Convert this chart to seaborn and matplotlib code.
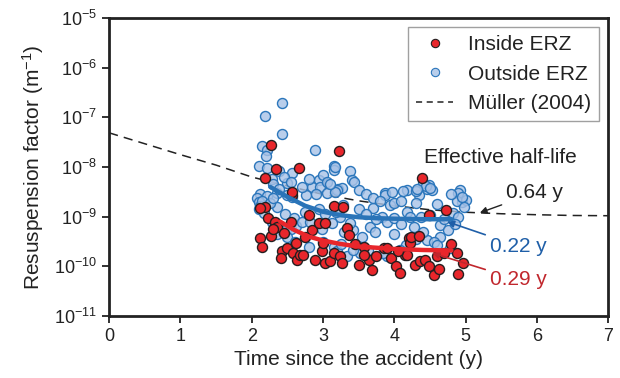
import numpy as np
import pandas as pd
import seaborn as sns
import matplotlib.pyplot as plt
from matplotlib.lines import Line2D

# values (time in years, log10 of resuspension factor)
inside_t = [2.12, 2.15, 2.27, 2.23, 2.33, 2.35, 2.19, 2.12, 2.57, 2.80, 2.85, 2.43, 2.41, 2.50,
            2.58, 2.63, 2.68, 2.72, 2.89, 2.98, 3.03, 3.10, 3.15, 2.94, 3.03, 3.15, 2.27, 2.34,
            2.19, 2.66, 3.22, 2.57, 4.39, 4.73, 4.48, 3.33, 3.36, 3.57, 3.64, 3.50, 3.69, 3.96,
            4.03, 4.08, 4.20, 4.22, 4.15, 4.29, 4.36, 4.43, 4.48, 4.55, 4.60, 4.69, 4.88, 4.97,
            4.90, 3.24, 3.26, 3.28, 3.85, 3.90, 4.18, 4.23, 4.34, 2.30, 2.45, 2.55, 2.62, 3.45,
            3.75, 4.05, 4.63, 3.00, 2.75, 4.80, 3.58]
inside_log = [-9.43, -9.60, -9.39, -9.03, -9.10, -9.20, -8.80, -8.83, -8.56, -8.96, -9.27, -9.70,
              -9.84, -9.63, -9.73, -9.87, -9.77, -9.77, -9.88, -9.70, -9.94, -9.90, -9.73, -9.13,
              -9.13, -8.78, -7.56, -8.04, -8.23, -8.01, -7.68, -8.51, -8.23, -8.86, -8.96, -9.23,
              -9.37, -9.60, -9.87, -9.97, -10.07, -9.84, -10.00, -10.14, -9.43, -9.53, -9.77,
              -9.97, -9.90, -9.87, -10.00, -10.17, -9.80, -9.73, -9.73, -9.94, -10.15, -9.80,
              -9.94, -8.80, -9.63, -9.63, -9.77, -9.40, -9.38, -9.25, -9.33, -9.10, -9.52, -9.55,
              -9.80, -9.70, -10.05, -9.52, -9.40, -9.55, -9.78]

outside_t = [2.42, 2.19, 2.42, 2.15, 2.21, 2.20, 2.89, 2.10, 2.22, 2.38, 2.57, 2.49, 2.28, 3.16,
             3.16, 2.94, 2.85, 2.96, 3.21, 3.17, 3.38, 3.40, 3.43, 3.26, 3.50, 3.20, 3.87, 4.18,
             4.48, 4.46, 4.53, 4.92, 4.90, 4.95, 4.88, 5.00, 4.83, 4.90, 4.12, 4.40, 4.45, 4.50,
             4.34, 3.87, 3.70, 3.94, 4.18, 4.22, 3.83, 3.90, 3.42, 3.38, 3.66, 3.73, 3.28, 3.24,
             4.64, 4.64, 4.75, 4.46, 4.55, 4.60, 4.78, 4.17, 4.08, 3.90, 3.84, 3.63, 3.52, 3.33,
             3.42, 4.38, 4.50,
             2.12, 2.21, 2.35, 2.49, 2.57, 2.76, 2.90, 3.05, 3.17,
             2.10, 2.17, 2.35, 2.47, 2.59, 2.75, 2.94, 3.03, 3.12, 3.18,
             2.28, 2.33, 2.42, 2.49, 2.55, 2.62, 2.71, 2.82, 2.99,
             2.35, 2.49, 2.61, 2.80, 3.00, 3.15, 3.20,
             3.97, 4.30, 4.32, 3.60, 3.70, 3.80, 4.00, 4.10, 4.30, 4.60, 3.50, 3.60, 3.75, 4.00,
             4.10, 4.28, 4.40, 4.30, 4.00, 3.55, 3.30, 3.25, 4.70, 4.85, 4.95, 4.98, 4.80,
             2.08, 2.10, 2.12, 2.15, 2.25, 2.30,
             2.30, 2.38, 2.45, 2.55, 2.70, 2.80, 3.00, 3.05, 3.10]
outside_log = [-6.70, -6.97, -7.34, -7.58, -7.66, -7.78, -7.66, -7.98, -8.01, -8.07, -8.12, -8.33,
               -8.25, -7.97, -8.06, -8.27, -8.40, -8.40, -8.45, -7.99, -8.08, -8.26, -8.30, -8.42,
               -8.46, -8.46, -8.52, -8.46, -8.36, -8.45, -8.46, -8.46, -8.53, -8.70, -8.68, -8.66,
               -8.92, -9.00, -8.49, -8.33, -8.38, -8.42, -8.56, -8.56, -8.82, -8.76, -8.90, -9.00,
               -9.00, -9.10, -9.27, -9.12, -9.20, -9.30, -8.76, -9.00, -9.17, -9.40, -9.27, -9.47,
               -9.50, -9.57, -9.63, -9.57, -9.67, -9.80, -9.73, -9.67, -9.73, -9.80, -9.67, -9.00,
               -8.96,
               -8.55, -8.58, -8.53, -8.57, -8.60, -8.56, -8.55, -8.52, -8.50,
               -8.85, -8.92, -8.80, -8.95, -9.02, -8.90, -8.85, -8.95, -9.12, -8.90,
               -9.10, -9.15, -9.28, -9.22, -9.25, -9.18, -9.10, -9.10, -9.25,
               -9.35, -9.40, -9.50, -9.60, -9.50, -9.60, -9.70,
               -8.50, -8.48, -8.45, -8.55, -8.62, -8.68, -8.72, -8.68, -8.72, -8.75, -8.85, -8.95,
               -9.05, -9.02, -9.15, -9.20, -9.30, -9.45, -9.35, -9.40, -9.30, -9.55, -9.05, -9.15,
               -8.60, -8.80, -8.55,
               -8.62, -8.70, -8.78, -8.68, -8.72, -8.62,
               -8.35, -8.45, -8.20, -8.30, -8.40, -8.25, -8.15, -8.30, -8.35]

muller_t = [0, 0.5, 1, 1.5, 2, 2.5, 3, 3.5, 4, 4.5, 5, 5.5, 6, 6.5, 7]
muller_log = [-7.31, -7.53, -7.75, -7.96, -8.20, -8.38, -8.55, -8.68, -8.78, -8.86, -8.91,
              -8.94, -8.96, -8.975, -8.98]

fit_out_t = [2.26, 2.5, 2.75, 3.0, 3.25, 3.5, 3.75, 4.0, 4.4, 4.8]
fit_out_log = [-8.40, -8.60, -8.78, -8.90, -8.97, -9.01, -9.03, -9.04, -9.05, -9.05]
fit_in_t = [2.4, 2.6, 2.8, 3.0, 3.25, 3.5, 4.0, 4.4, 4.8]
fit_in_log = [-9.10, -9.27, -9.40, -9.48, -9.55, -9.60, -9.65, -9.67, -9.68]

inside = pd.DataFrame({'t': inside_t, 'rf': np.power(10.0, inside_log)})
outside = pd.DataFrame({'t': outside_t, 'rf': np.power(10.0, outside_log)})
muller = pd.DataFrame({'t': muller_t, 'rf': np.power(10.0, muller_log)})
fit_out = pd.DataFrame({'t': fit_out_t, 'rf': np.power(10.0, fit_out_log)})
fit_in = pd.DataFrame({'t': fit_in_t, 'rf': np.power(10.0, fit_in_log)})

red = '#e8262b'
red_dark = '#c1272d'
blue_fill = (0.66, 0.76, 0.90, 0.8)
blue_edge = '#2b76bb'
blue_dark = '#1f5fa8'

sns.set_style('ticks')
plt.rcParams['font.family'] = ['Liberation Sans', 'DejaVu Sans']
plt.rcParams['mathtext.fontset'] = 'custom'
plt.rcParams['mathtext.rm'] = 'Liberation Sans'
plt.rcParams['mathtext.default'] = 'regular'

fig, ax = plt.subplots(figsize=(6.2, 3.78), dpi=100)
fig.subplots_adjust(left=0.176, right=0.981, top=0.952, bottom=0.164)

sns.lineplot(data=muller, x='t', y='rf', ax=ax, color='#222222', lw=1.1,
             linestyle=(0, (6, 4)), zorder=1)
sns.scatterplot(data=outside, x='t', y='rf', ax=ax, color=blue_fill, edgecolor=blue_edge,
                linewidth=1.0, s=52, zorder=2)
sns.scatterplot(data=inside, x='t', y='rf', ax=ax, color=red, edgecolor='#231f20',
                linewidth=1.0, s=52, zorder=3)
sns.lineplot(data=fit_out, x='t', y='rf', ax=ax, color='#2a74b8', lw=3.2, zorder=4)
sns.lineplot(data=fit_in, x='t', y='rf', ax=ax, color=red, lw=3.2, zorder=4)

ax.set_yscale('log')
ax.set_xlim(0, 7)
ax.set_ylim(1e-11, 1e-5)
ax.set_xticks(range(8))
ax.set_yticks([10.0 ** e for e in range(-11, -4)])
ax.minorticks_off()
ax.tick_params(direction='out', length=5, width=1.3, labelsize=13, colors='#222222')
for sp in ax.spines.values():
    sp.set_linewidth(2)
    sp.set_color('#222222')

ax.set_xlabel('Time since the accident (y)', fontsize=15, color='#222222', labelpad=4)
ax.set_ylabel('Resuspension factor (m$^{-1}$)', fontsize=15, color='#222222', labelpad=6)

ax.text(4.42, 10 ** -7.80, 'Effective half-life', fontsize=15, color='#222222',
        ha='left', va='center')
ax.annotate('0.64 y', xy=(5.20, 10 ** -8.92), xytext=(5.57, 10 ** -8.52), fontsize=15,
            color='#222222', ha='left', va='center',
            arrowprops=dict(arrowstyle='-|>', color='#222222', lw=1.0, shrinkA=1, shrinkB=0,
                            mutation_scale=10))
ax.annotate('0.22 y', xy=(4.74, 10 ** -9.10), xytext=(5.34, 10 ** -9.59), fontsize=15,
            color=blue_dark, ha='left', va='center',
            arrowprops=dict(arrowstyle='-|>', color=blue_dark, lw=1.2, shrinkA=1, shrinkB=0,
                            mutation_scale=10))
ax.annotate('0.29 y', xy=(4.53, 10 ** -9.73), xytext=(5.34, 10 ** -10.27), fontsize=15,
            color=red_dark, ha='left', va='center',
            arrowprops=dict(arrowstyle='-|>', color=red_dark, lw=1.2, shrinkA=1, shrinkB=0,
                            mutation_scale=10))

handles = [
    Line2D([], [], ls='none', marker='o', ms=6, mfc=red, mec='#231f20', mew=0.8),
    Line2D([], [], ls='none', marker='o', ms=6, mfc=blue_fill, mec=blue_edge, mew=0.8),
    Line2D([], [], color='#222222', lw=1.1, ls=(0, (4, 3))),
]
leg = ax.legend(handles, ['Inside ERZ', 'Outside ERZ', 'Müller (2004)'], loc='upper right',
                fontsize=15, frameon=True, fancybox=False, borderaxespad=0.42,
                labelspacing=0.5, handlelength=1.8, handletextpad=0.7, borderpad=0.4)
leg.get_frame().set_edgecolor('#888888')
leg.get_frame().set_linewidth(1.0)
for t in leg.get_texts():
    t.set_color('#222222')

fig.savefig('out.png', dpi=100)
